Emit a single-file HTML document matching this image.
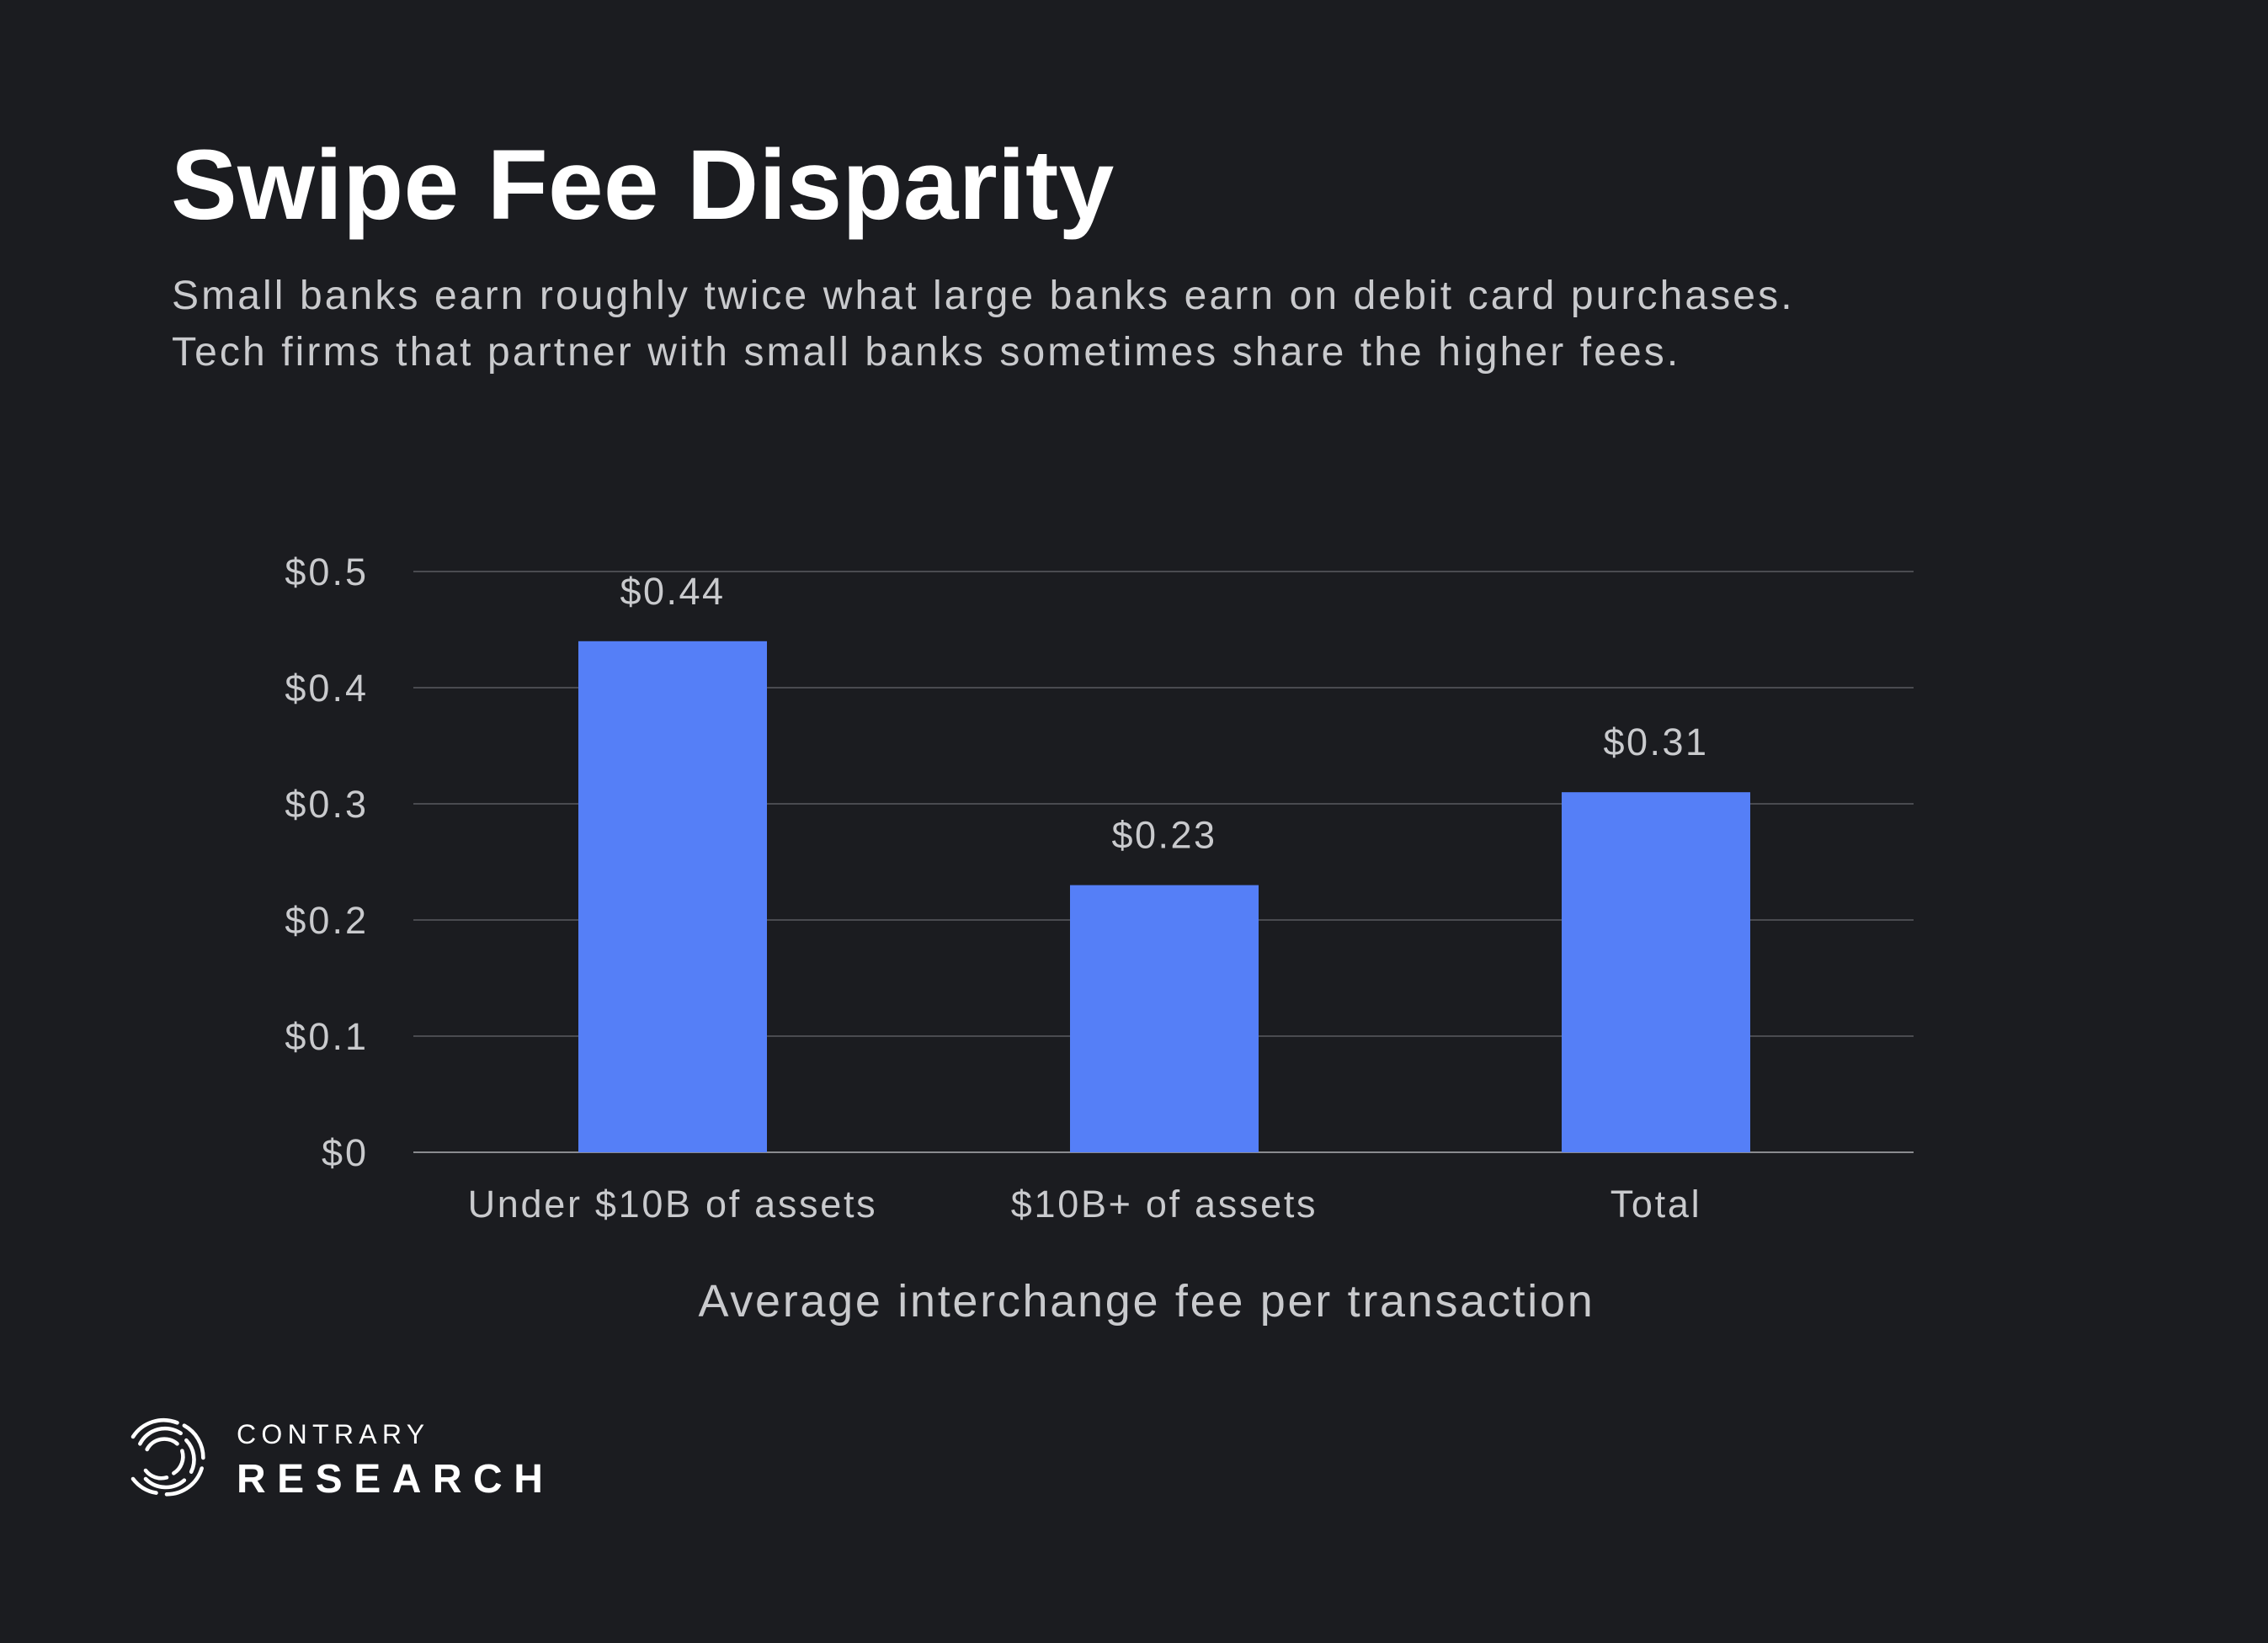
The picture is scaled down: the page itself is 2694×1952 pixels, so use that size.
<!DOCTYPE html>
<html><head><meta charset="utf-8"><style>
html,body{margin:0;padding:0;background:#1b1c20;}
body{width:2694px;height:1952px;position:relative;overflow:hidden;font-family:"Liberation Sans",sans-serif;}
.t{position:absolute;white-space:nowrap;}
</style></head><body>
<div class="t" style="left:203px;top:152px;font-size:118px;font-weight:bold;color:#fff;letter-spacing:0.3px;">Swipe Fee Disparity</div>
<div class="t" style="left:204px;top:318px;font-size:48px;line-height:67px;color:#c9cacd;letter-spacing:3.1px;">Small banks earn roughly twice what large banks earn on debit card purchases.<br>Tech firms that partner with small banks sometimes share the higher fees.</div>
<svg id="chart" width="2694" height="1952" style="position:absolute;left:0;top:0" xmlns="http://www.w3.org/2000/svg"></svg>
<svg width="100" height="100" style="position:absolute;left:148px;top:1682px" viewBox="0 0 120 120">
<g fill="none" stroke="#fff" stroke-width="5.5" stroke-linecap="round">
<path d="M12 30 A52 52 0 0 1 75 10"/><path d="M85 14 A52 52 0 0 1 112 60"/><path d="M110 75 A52 52 0 0 1 60 112"/><path d="M45 110 A52 52 0 0 1 12 90"/>
<path d="M22 40 A40 40 0 0 1 80 25"/><path d="M88 35 A40 40 0 0 1 95 80"/><path d="M85 92 A40 40 0 0 1 30 90"/>
<path d="M32 48 A28 28 0 0 1 75 40"/><path d="M82 50 A28 28 0 0 1 70 82"/><path d="M60 88 A28 28 0 0 1 30 78"/>
</g></svg>
<div class="t" style="left:281px;top:1686px;font-size:32px;letter-spacing:6.3px;color:#fff;">CONTRARY</div>
<div class="t" style="left:281px;top:1730px;font-size:48px;font-weight:bold;letter-spacing:13.5px;color:#fff;">RESEARCH</div>
<script>
const categories=["Under $10B of assets","$10B+ of assets","Total"];
const values=[0.44,0.23,0.31];
const valueLabels=["$0.44","$0.23","$0.31"];
const ticks=[0,0.1,0.2,0.3,0.4,0.5];
const tickLabels=["$0","$0.1","$0.2","$0.3","$0.4","$0.5"];
const svg=document.getElementById('chart');
const NS='http://www.w3.org/2000/svg';
const x0=491,x1=2273,yBase=1369,yTop=679,vMax=0.5;
const y=v=>yBase-(v/vMax)*(yBase-yTop);
const step=584,firstC=799,bw=224;
const xc=i=>firstC+i*step;
const FF='Liberation Sans, sans-serif';
function mk(tag,attrs,text){const e=document.createElementNS(NS,tag);for(const k in attrs)e.setAttribute(k,attrs[k]);if(text!=null)e.textContent=text;svg.appendChild(e);return e;}
ticks.forEach((t,i)=>{
 const l=mk('line',{x1:x0,x2:x1,y1:y(t),y2:y(t),stroke:t===0?'#8a8b8f':'#4a4b50','stroke-width':2});
 
 
 const tx=mk('text',{x:438,y:y(t)+16,'text-anchor':'end','font-size':45,fill:'#c9cacd','font-family':FF,'letter-spacing':3},tickLabels[i]);
 
 
});
categories.forEach((c,i)=>{
 const r=mk('rect',{x:xc(i)-bw/2,y:y(values[i]),width:bw,height:yBase-y(values[i]),fill:'#557ff7'});
 
 
 const v=mk('text',{x:xc(i),y:y(values[i])-44,'text-anchor':'middle','font-size':45,fill:'#c9cacd','font-family':FF,'letter-spacing':2.5},valueLabels[i]);
 
 
 const xl=mk('text',{x:xc(i),y:1446,'text-anchor':'middle','font-size':45,fill:'#c9cacd','font-family':FF,'letter-spacing':2.7},c);
 
 
});
const at=mk('text',{x:1362,y:1564,'text-anchor':'middle','font-size':54,fill:'#c9cacd','font-family':FF,'letter-spacing':2.7},'Average interchange fee per transaction');


</script>
</body></html>
